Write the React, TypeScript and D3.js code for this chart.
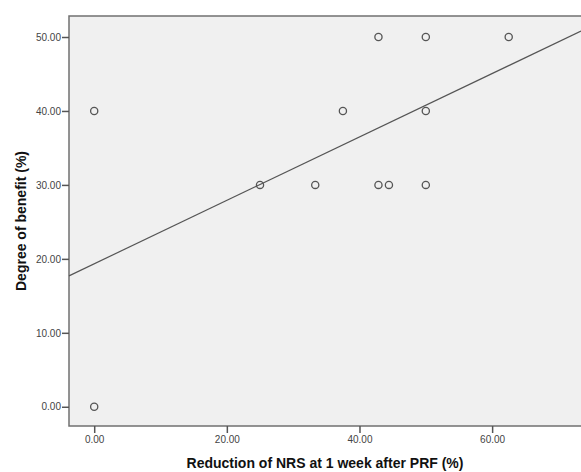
import React, { useEffect, useRef } from 'react';
import * as d3 from 'd3';

// reduction of NRS at 1 week after PRF (%) and degree of benefit (%)
const reduction = [0, 0, 25, 33.33, 37.5, 42.86, 42.86, 44.44, 50, 50, 50, 62.5];
const benefit = [40, 0, 30, 30, 40, 50, 30, 30, 50, 40, 30, 50];
const xTicks = [0, 20, 40, 60];
const yTicks = [0, 10, 20, 30, 40, 50];

export default function App() {
    const ref = useRef<SVGSVGElement>(null);

    useEffect(() => {
        const width = 581, height = 472;
        const margin = { top: 16, right: 0, bottom: 46, left: 69 };
        const svg = d3.select(ref.current);
        svg.selectAll('*').remove();

        const x = d3.scaleLinear().domain([-3.8, 73.4]).range([margin.left, width - margin.right]);
        const y = d3.scaleLinear().domain([-2.6, 52.84]).range([height - margin.bottom, margin.top]);

        const font = '"Liberation Sans", Arial, sans-serif';

        // plot background
        svg.append('rect')
            .attr('x', margin.left)
            .attr('y', margin.top)
            .attr('width', width - margin.left - margin.right)
            .attr('height', height - margin.top - margin.bottom)
            .attr('fill', '#f0f0f0');

        // frame lines
        const frame = svg.append('g').attr('stroke', '#707070').attr('stroke-width', 1.5).attr('fill', 'none');
        frame.append('path').attr('d', `M${width},${margin.top}H${margin.left}V${height - margin.bottom}H${width}`);

        // axes
        const xAxis = d3.axisBottom(x).tickValues(xTicks).tickFormat(d3.format('.2f')).tickSize(7).tickPadding(3);
        const yAxis = d3.axisLeft(y).tickValues(yTicks).tickFormat(d3.format('.2f')).tickSize(7).tickPadding(1);

        const gx = svg.append('g')
            .attr('transform', `translate(0,${height - margin.bottom})`)
            .call(xAxis);
        const gy = svg.append('g')
            .attr('transform', `translate(${margin.left},0)`)
            .call(yAxis);
        [gx, gy].forEach(g => {
            g.select('.domain').remove();
            g.selectAll('line').attr('stroke', '#555').attr('stroke-width', 1.5);
            g.selectAll('text').attr('fill', '#444').attr('font-size', 10).attr('font-family', font);
        });

        // regression line from the data
        const mx = d3.mean(reduction) as number;
        const my = d3.mean(benefit) as number;
        const sxy = d3.sum(reduction, (v, i) => (v - mx) * (benefit[i] - my));
        const sxx = d3.sum(reduction, v => (v - mx) * (v - mx));
        const slope = sxy / sxx;
        const intercept = my - slope * mx;
        const [x0, x1] = x.domain();

        svg.append('path')
            .datum([x0, x1])
            .attr('d', d3.line<number>().x(d => x(d)).y(d => y(intercept + slope * d)))
            .attr('fill', 'none')
            .attr('stroke', '#555')
            .attr('stroke-width', 1.2);

        // points
        svg.append('g')
            .selectAll('circle')
            .data(reduction)
            .enter()
            .append('circle')
            .attr('cx', d => x(d))
            .attr('cy', (d, i) => y(benefit[i]))
            .attr('r', 3.6)
            .attr('fill', 'none')
            .attr('stroke', '#555')
            .attr('stroke-width', 1.3);

        // axis titles
        svg.append('text')
            .attr('x', 325)
            .attr('y', 468)
            .attr('text-anchor', 'middle')
            .attr('font-family', font)
            .attr('font-weight', 'bold')
            .attr('font-size', 14)
            .attr('fill', '#111')
            .text('Reduction of NRS at 1 week after PRF (%)');

        svg.append('text')
            .attr('transform', `translate(26,${(margin.top + height - margin.bottom) / 2}) rotate(-90)`)
            .attr('text-anchor', 'middle')
            .attr('font-family', font)
            .attr('font-weight', 'bold')
            .attr('font-size', 14)
            .attr('fill', '#111')
            .text('Degree of benefit (%)');
    }, []);

    return (
        <svg ref={ref} width={581} height={472} style={{ position: 'absolute', left: 0, top: 0, background: '#fff' }} />
    );
}
